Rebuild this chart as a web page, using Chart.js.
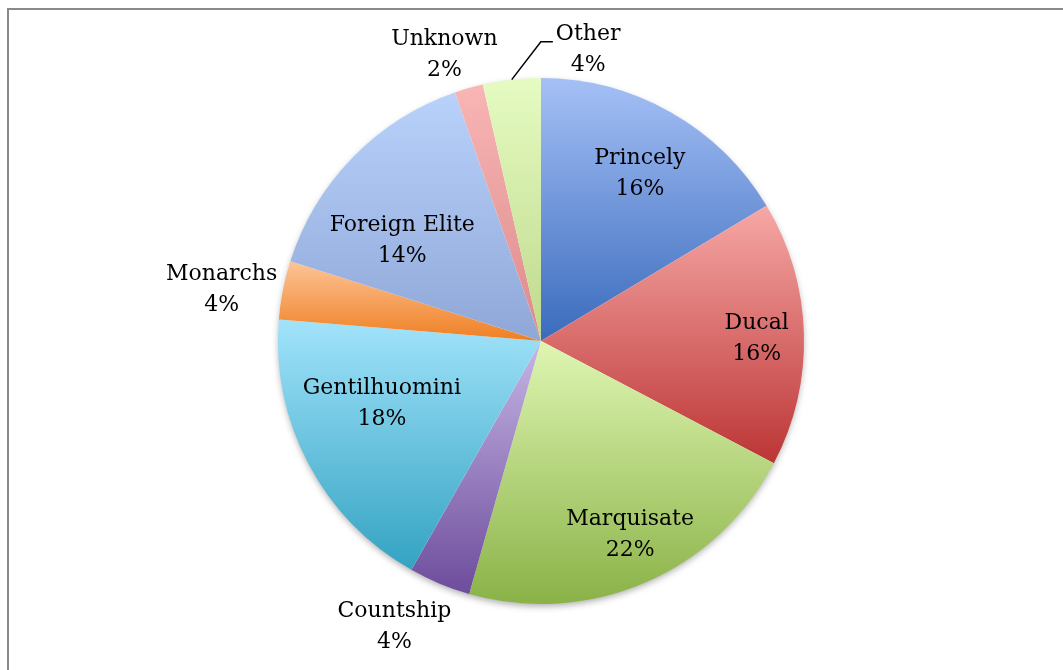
<!DOCTYPE html>
<html>
<head>
<meta charset="utf-8">
<script src="https://cdn.jsdelivr.net/npm/chart.js@4/dist/chart.umd.min.js"></script>
<style>
  html, body { margin: 0; padding: 0; background: #fff; overflow: hidden; }
  #frame { position: absolute; left: 7px; top: 8px; width: 1200px; height: 800px;
           border-left: 2px solid #8a8a8a; border-top: 2px solid #8a8a8a; }
  #wrap { position: absolute; left: 0; top: 0; width: 1063px; height: 670px; }
</style>
</head>
<body>
<div id="frame"></div>
<div id="wrap"><canvas id="chart" width="1063" height="670"></canvas></div>
<script>
// slices, clockwise from 12 o'clock
const categories = ["Princely", "Ducal", "Marquisate", "Countship", "Gentilhuomini", "Monarchs", "Foreign Elite", "Unknown", "Other"]
const shares = [16.4, 16.3, 21.7, 3.8, 18.1, 3.6, 14.8, 1.75, 3.55]
const percentLabels = ["16%", "16%", "22%", "4%", "18%", "4%", "14%", "2%", "4%"]

// light (top of slice) -> dark (bottom of slice)
const topColors = ["#a5c0f6", "#f6a8a6", "#dff6b2", "#c6b6e4", "#a2e3fb", "#fdc497", "#b9d2fb", "#f8b6b5", "#e5fbc2"]
const bottomColors = ["#3a6bbc", "#bc3535", "#8ab247", "#6d4c9c", "#33a3c2", "#ef7f22", "#8fa7d7", "#dc8a8a", "#bfd98b"]

// [radius factor, angle shift in degrees] for each data label
const labelPlace = [[0.74, 1], [0.82, 1], [0.81, -1.5], [1.22, 4.5], [0.65, 6.5], [1.23, -2], [0.65, -8.5], [1.15, -2.7], [1.12, 15.6]]

const FONT = "22px 'DejaVu Serif', serif"

function sliceExtent(el) {
  let a0 = el.startAngle, a1 = el.endAngle
  const ys = [el.y, el.y + el.outerRadius * Math.sin(a0), el.y + el.outerRadius * Math.sin(a1)]
  for (const k of [-0.5, 0.5, 1.5]) {
    const a = k * Math.PI
    for (const off of [0, 2 * Math.PI, -2 * Math.PI]) {
      if (a + off > a0 && a + off < a1) ys.push(el.y + el.outerRadius * Math.sin(a + off))
    }
  }
  return [Math.min(...ys), Math.max(...ys)]
}

const gradientPlugin = {
  id: "sliceGradient",
  beforeDatasetsDraw(chart) {
    const ctx = chart.ctx
    const arcs = chart.getDatasetMeta(0).data
    arcs.forEach((el, i) => {
      const [y0, y1] = sliceExtent(el)
      const g = ctx.createLinearGradient(0, y0, 0, y1)
      g.addColorStop(0, topColors[i])
      g.addColorStop(1, bottomColors[i])
      el.options.backgroundColor = g
    })
    // soft shadow under the whole pie
    const a = arcs[0]
    ctx.save()
    ctx.shadowColor = "rgba(0,0,0,0.35)"
    ctx.shadowBlur = 7
    ctx.shadowOffsetY = 3
    ctx.fillStyle = "#fff"
    ctx.beginPath()
    ctx.arc(a.x, a.y, a.outerRadius - 1, 0, Math.PI * 2)
    ctx.fill()
    ctx.restore()
  }
}

const labelPlugin = {
  id: "sliceLabels",
  afterDatasetsDraw(chart) {
    const ctx = chart.ctx
    const arcs = chart.getDatasetMeta(0).data
    ctx.save()
    ctx.font = FONT
    ctx.fillStyle = "#000"
    ctx.textAlign = "center"
    ctx.textBaseline = "middle"
    arcs.forEach((el, i) => {
      const mid = (el.startAngle + el.endAngle) / 2
      const [f, shift] = labelPlace[i]
      const a = mid + shift * Math.PI / 180
      const x = el.x + el.outerRadius * f * Math.cos(a)
      const y = el.y + el.outerRadius * f * Math.sin(a)
      ctx.fillText(categories[i], x, y - 15.5)
      ctx.fillText(percentLabels[i], x, y + 15.5)
      if (categories[i] === "Other") {
        const left = x - ctx.measureText(categories[i]).width / 2
        const ly = y - 15.5 + 7
        ctx.beginPath()
        ctx.moveTo(el.x + el.outerRadius * Math.cos(mid), el.y + el.outerRadius * Math.sin(mid))
        ctx.lineTo(left - 15, ly)
        ctx.lineTo(left - 3, ly)
        ctx.strokeStyle = "#000"
        ctx.lineWidth = 1.5
        ctx.stroke()
      }
    })
    ctx.restore()
  }
}

new Chart(document.getElementById("chart"), {
  type: "pie",
  data: {
    labels: categories,
    datasets: [{
      data: shares,
      backgroundColor: topColors,
      borderWidth: 0
    }]
  },
  options: {
    responsive: false,
    animation: false,
    layout: { padding: { left: 278, right: 259, top: 78, bottom: 66 } },
    plugins: {
      legend: { display: false },
      tooltip: { enabled: false }
    }
  },
  plugins: [gradientPlugin, labelPlugin]
})
</script>
</body>
</html>
